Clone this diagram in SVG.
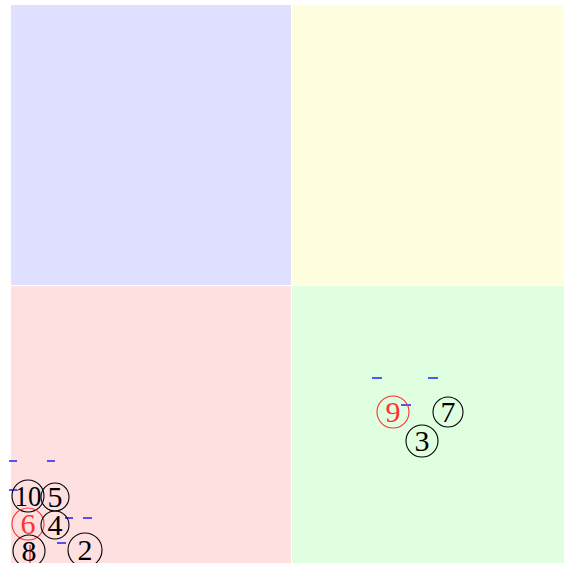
<svg xmlns="http://www.w3.org/2000/svg" width="564" height="563" viewBox="0 0 564 563">
<style>
.c{fill:none;stroke:#000;stroke-width:1.1}
.cr{fill:none;stroke:#ff3030;stroke-width:1.1}
.t{font-family:"Liberation Serif","DejaVu Serif",serif;font-size:30px;text-anchor:middle;fill:#000}
.tr{font-family:"Liberation Serif","DejaVu Serif",serif;font-size:30px;text-anchor:middle;fill:#ff3030}
.d{stroke:#0000ff;stroke-width:1.3}
</style>
<rect width="564" height="563" fill="#fff"/>
<g id="quadrants">
<rect x="11" y="5" width="280" height="280" fill="#dfe0ff"/>
<rect x="292" y="5" width="272" height="280" fill="#ffffe0"/>
<rect x="11" y="286" width="280" height="277" fill="#ffe0e0"/>
<rect x="292" y="286" width="272" height="277" fill="#e0ffe0"/>
</g>
<g id="connectors">
<line class="d" x1="9" y1="461" x2="17" y2="461"/>
<line class="d" x1="47" y1="461" x2="55" y2="461"/>
<line class="d" x1="9" y1="490" x2="17" y2="490"/>
<line class="d" x1="65" y1="518" x2="73" y2="518"/>
<line class="d" x1="83" y1="518" x2="92" y2="518"/>
<line class="d" x1="57" y1="543" x2="66" y2="543"/>
<line class="d" x1="372" y1="378" x2="382" y2="378"/>
<line class="d" x1="428" y1="378" x2="438" y2="378"/>
<line class="d" x1="401" y1="405" x2="411" y2="405"/>
<line x1="30" y1="545" x2="30" y2="563" stroke="#ff6060" stroke-width="2"/>
</g>
<g id="n10"><circle class="c" cx="28" cy="496" r="16"/><text class="t" x="28" y="506" textLength="27" lengthAdjust="spacingAndGlyphs">10</text></g>
<g id="n5"><circle class="c" cx="55" cy="497" r="14"/><text class="t" x="55" y="507">5</text></g>
<g id="n6"><circle class="cr" cx="28" cy="524" r="16"/><text class="tr" x="28" y="534">6</text></g>
<g id="n4"><circle class="c" cx="55" cy="525" r="14"/><text class="t" x="55" y="535">4</text></g>
<g id="n8"><circle class="c" cx="29" cy="551" r="16"/><text class="t" x="29" y="561">8</text></g>
<g id="n2"><circle class="c" cx="85" cy="550" r="17"/><text class="t" x="85" y="560">2</text></g>
<g id="n9"><circle class="cr" cx="393" cy="412" r="16"/><text class="tr" x="393" y="422">9</text></g>
<g id="n7"><circle class="c" cx="448" cy="412" r="15"/><text class="t" x="448" y="422">7</text></g>
<g id="n3"><circle class="c" cx="422" cy="441" r="16"/><text class="t" x="422" y="451">3</text></g>
</svg>
